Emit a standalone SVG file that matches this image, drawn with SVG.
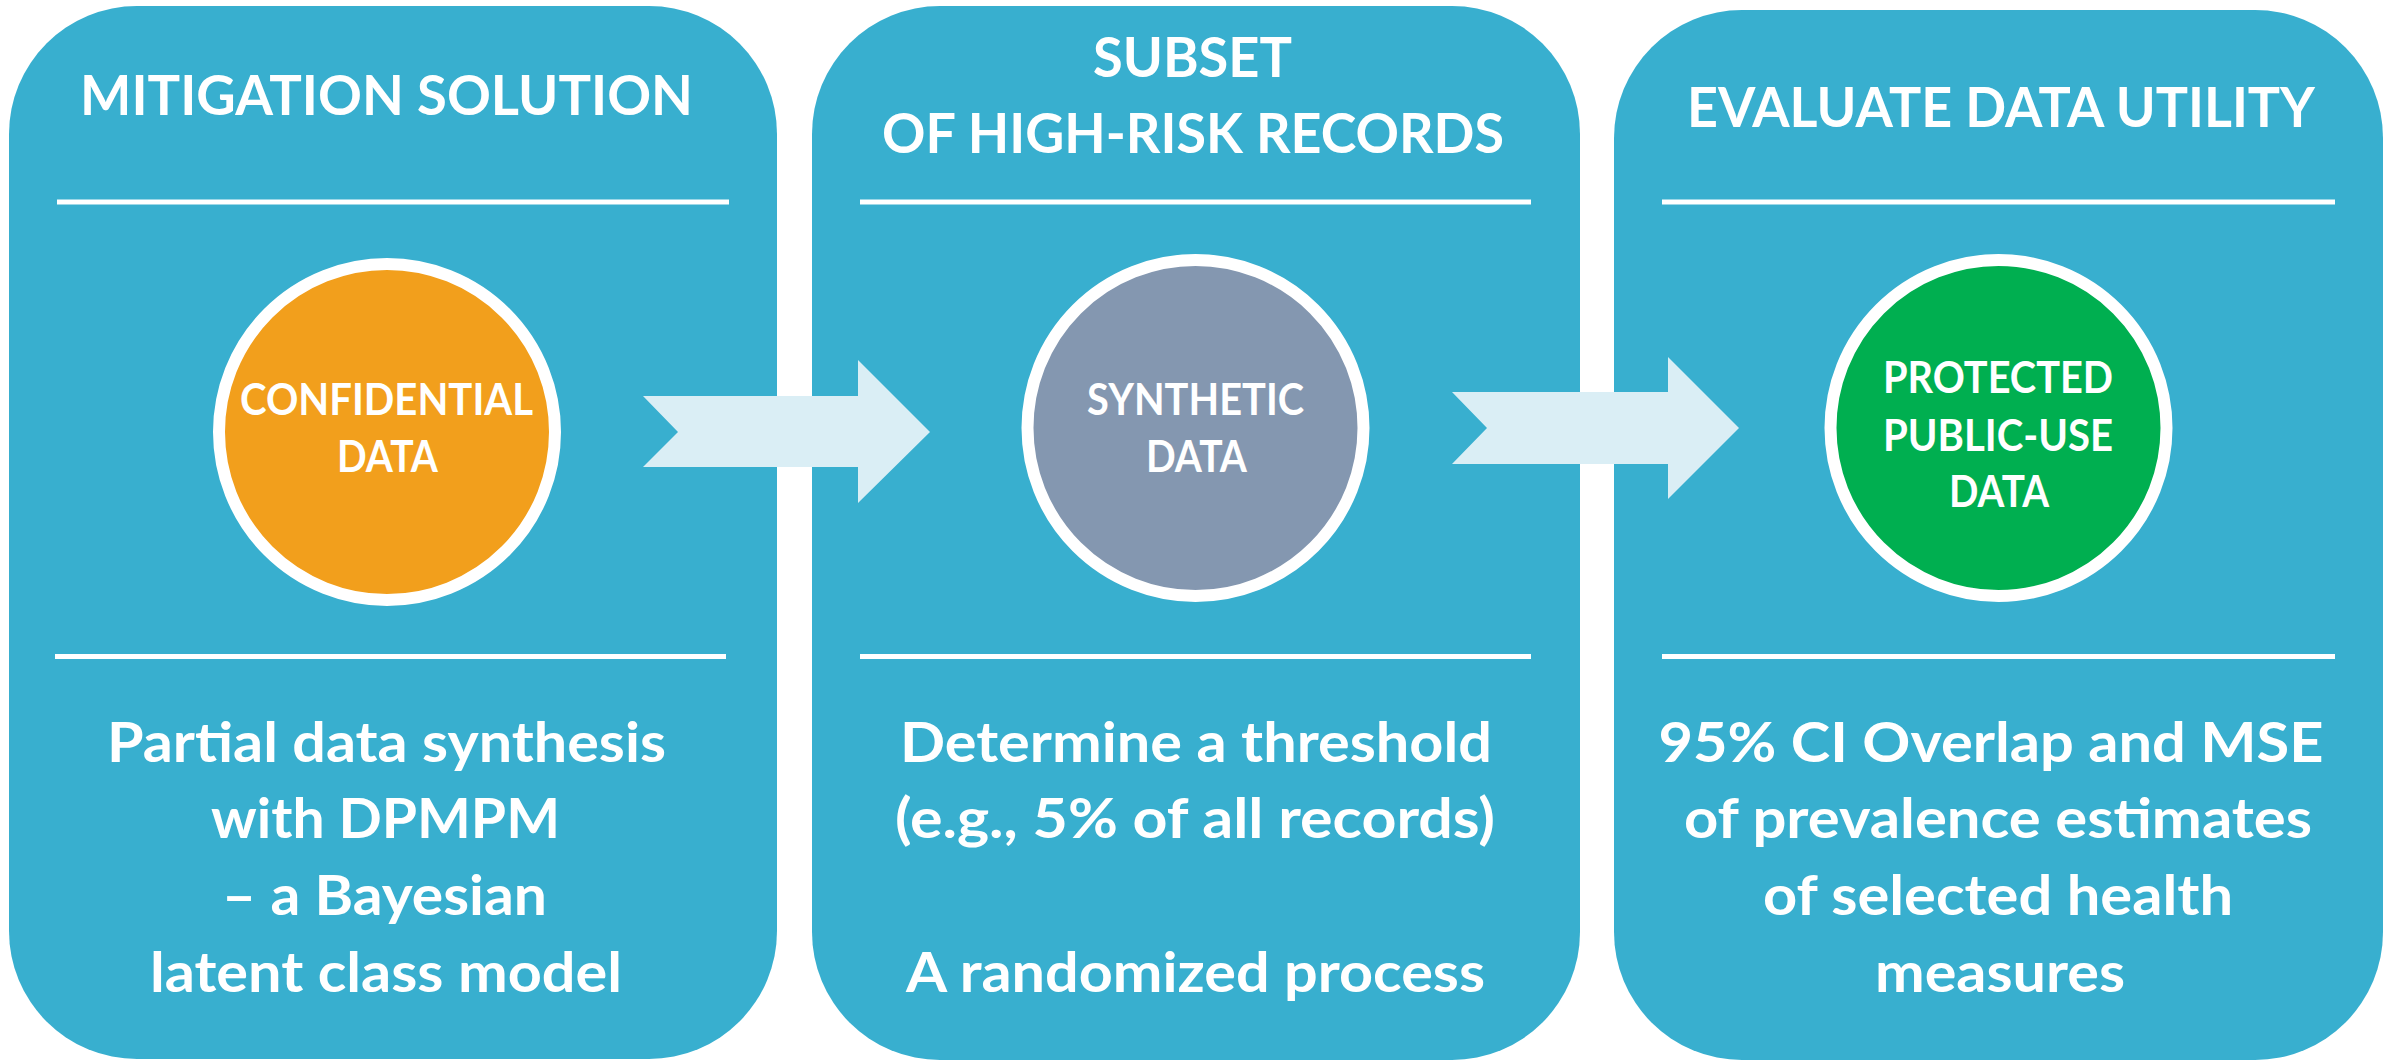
<svg xmlns="http://www.w3.org/2000/svg" width="2397" height="1061" viewBox="0 0 2397 1061">
<style>
.panel{fill:#38AFCF}
.rule{fill:#FFFFFF}
.t{font-family:Lato,"Open Sans","Liberation Sans",sans-serif;font-weight:700;fill:#FFFFFF;text-anchor:middle}
.title{font-size:56px}
.body{font-size:56px}
.ct{font-size:43px}
.circ{stroke:#FFFFFF;stroke-width:12}
.arrow{fill:#DAEEF5}
</style>
<rect width="2397" height="1061" fill="#FFFFFF"/>
<g id="panel-mitigation">
<rect class="panel" x="9" y="6" width="768" height="1053" rx="128" ry="128"/>
<text class="t title" x="386.5" y="115" textLength="613" lengthAdjust="spacingAndGlyphs">MITIGATION SOLUTION</text>
<rect class="rule" x="57" y="199.5" width="672" height="5"/>
<circle class="circ" cx="387" cy="432" r="168" fill="#F29F1C"/>
<text class="t ct" x="386.5" y="415" textLength="293" lengthAdjust="spacingAndGlyphs">CONFIDENTIAL</text>
<text class="t ct" x="387.5" y="472" textLength="101" lengthAdjust="spacingAndGlyphs">DATA</text>
<rect class="rule" x="55" y="654" width="671" height="5"/>
<text class="t body" x="386.5" y="762" textLength="559" lengthAdjust="spacingAndGlyphs">Partial data synthesis</text>
<text class="t body" x="385.5" y="838" textLength="349" lengthAdjust="spacingAndGlyphs">with DPMPM</text>
<text class="t body" x="384.5" y="915" textLength="325" lengthAdjust="spacingAndGlyphs">– a Bayesian</text>
<text class="t body" x="386" y="992" textLength="472" lengthAdjust="spacingAndGlyphs">latent class model</text>
</g>
<g id="panel-subset">
<rect class="panel" x="812" y="6" width="768" height="1054" rx="128" ry="128"/>
<text class="t title" x="1192.5" y="77" textLength="199" lengthAdjust="spacingAndGlyphs">SUBSET</text>
<text class="t title" x="1193" y="153" textLength="622" lengthAdjust="spacingAndGlyphs">OF HIGH-RISK RECORDS</text>
<rect class="rule" x="860" y="199.5" width="671" height="5"/>
<circle class="circ" cx="1195.5" cy="428" r="168" fill="#8497B0"/>
<text class="t ct" x="1195.5" y="415" textLength="217" lengthAdjust="spacingAndGlyphs">SYNTHETIC</text>
<text class="t ct" x="1196.5" y="472" textLength="101" lengthAdjust="spacingAndGlyphs">DATA</text>
<rect class="rule" x="860" y="654" width="671" height="5"/>
<text class="t body" x="1196" y="762" textLength="592" lengthAdjust="spacingAndGlyphs">Determine a threshold</text>
<text class="t body" x="1195" y="838" textLength="600" lengthAdjust="spacingAndGlyphs">(e.g., 5% of all records)</text>
<text class="t body" x="1195.5" y="992" textLength="579" lengthAdjust="spacingAndGlyphs">A randomized process</text>
</g>
<g id="panel-utility">
<rect class="panel" x="1614" y="10" width="769" height="1050" rx="128" ry="128"/>
<text class="t title" x="2001" y="127" textLength="628" lengthAdjust="spacingAndGlyphs">EVALUATE DATA UTILITY</text>
<rect class="rule" x="1662" y="199.5" width="673" height="5"/>
<circle class="circ" cx="1998.5" cy="428" r="168" fill="#00AF50"/>
<text class="t ct" x="1998" y="393" textLength="230" lengthAdjust="spacingAndGlyphs">PROTECTED</text>
<text class="t ct" x="1998" y="451" textLength="230" lengthAdjust="spacingAndGlyphs">PUBLIC-USE</text>
<text class="t ct" x="1999" y="507" textLength="100" lengthAdjust="spacingAndGlyphs">DATA</text>
<rect class="rule" x="1662" y="654" width="673" height="5"/>
<text class="t body" x="1991" y="762" textLength="665" lengthAdjust="spacingAndGlyphs">95% CI Overlap and MSE</text>
<text class="t body" x="1998" y="838" textLength="628" lengthAdjust="spacingAndGlyphs">of prevalence estimates</text>
<text class="t body" x="1998" y="915" textLength="470" lengthAdjust="spacingAndGlyphs">of selected health</text>
<text class="t body" x="2000" y="992" textLength="250" lengthAdjust="spacingAndGlyphs">measures</text>
</g>
<g id="connectors">
<polygon class="arrow" points="643,396 858,396 858,360 930,432 858,503 858,467 643,467 678,432"/>
<polygon class="arrow" points="1452,392 1668,392 1668,357 1739,428 1668,499 1668,464 1452,464 1487,428"/>
</g>
</svg>
